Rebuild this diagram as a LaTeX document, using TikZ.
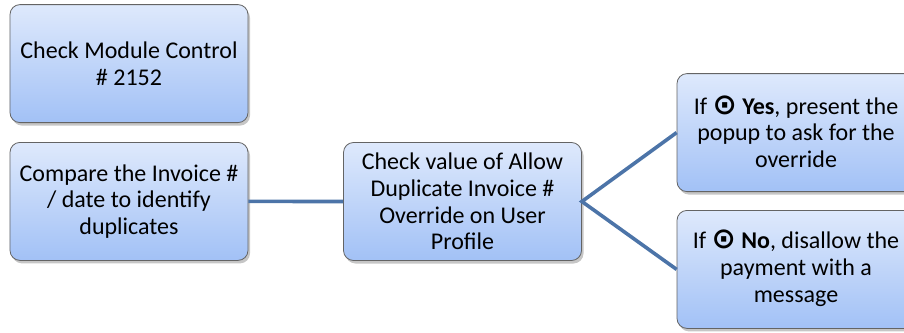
\documentclass[tikz,border=0pt]{standalone}
\usepackage{fontspec}
\setmainfont{Carlito}
\newfontfamily\symfont{DejaVu Sans}
\usetikzlibrary{shadows}
\definecolor{boxtop}{RGB}{222,233,252}
\definecolor{boxbot}{RGB}{162,193,246}
\definecolor{boxline}{RGB}{100,100,100}
\definecolor{linkblue}{RGB}{76,116,168}

\newcommand{\radio}{\smash{\symfont\bfseries\fontsize{29}{29}\selectfont ⊙}}

\begin{document}
\begin{tikzpicture}[x=1pt,y=-1pt]
    \tikzstyle{box} = [draw=boxline, line width=0.8pt, rounded corners=10pt,
        top color=boxtop, bottom color=boxbot,
        minimum width=238pt, minimum height=118pt, align=center,
        font=\fontsize{24}{26.7}\selectfont,
        drop shadow={shadow xshift=2pt, shadow yshift=-3pt, opacity=0.45}]
    \tikzstyle{link} = [draw=linkblue, line width=3.6pt]

    \useasboundingbox (0,0) rectangle (904,332);

    \matrix[nodes={box}, row sep=19pt] at (129,132.5){
    \node (1) {Check Module Control\\\# 2152}; \\
    \node (2) {Compare the Invoice \#\\/ date to identify\\duplicates}; \\
    };

    \node[box] (3) at (462.5,201.5) {Check value of Allow\\Duplicate Invoice \#\\Override on User\\Profile};

    \matrix[nodes={box}, row sep=18pt] at (796,201){
    \node (4) {If \radio\ \textbf{Yes}, present the\\popup to ask for the\\override}; \\
    \node (5) {If \radio\ \textbf{No}, disallow the\\payment with a\\message}; \\
    };

    \draw[link]  (2.east) -- (3.west);
    \draw[link]  (4.west) -- (3.east) -- (5.west);

\end{tikzpicture}
\end{document}
